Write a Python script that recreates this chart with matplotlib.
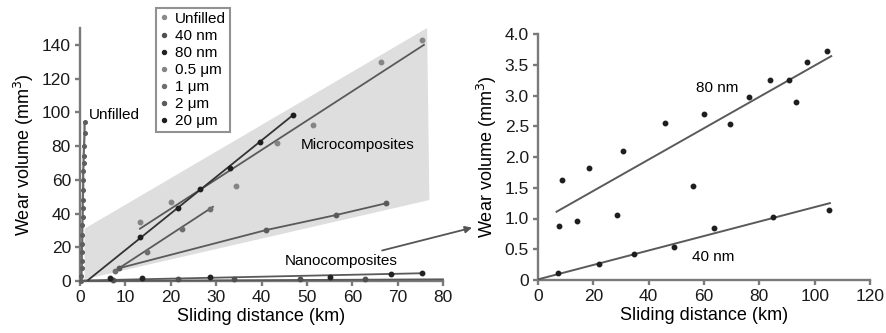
import matplotlib
matplotlib.use("Agg")
import matplotlib.pyplot as plt
from matplotlib.patches import Polygon

plt.rcParams['font.family'] = ['Liberation Sans', 'DejaVu Sans']

# ---------------- Left panel data ----------------
unfilled_x = [0.3, 0.3, 0.4, 0.4, 0.4, 0.5, 0.5, 0.5, 0.6, 0.6, 0.6, 0.7, 0.7, 0.7, 0.8, 0.8, 0.9, 1.0, 1.0]
unfilled_y = [0, 3, 8, 12, 17, 22, 27, 33, 38, 43, 48, 54, 60, 65, 70, 74, 80, 88, 94]

nano40_left_x = [7.3, 21.6, 34.0, 48.4, 62.9]
nano40_left_y = [0.5, 1.0, 1.0, 1.0, 1.0]
nano40_left_line_x = [0, 80]
nano40_left_line_y = [0.0, 1.0]

nano80_left_x = [6.6, 13.6, 28.6, 55.0, 68.5, 75.4]
nano80_left_y = [1.6, 1.6, 2.2, 2.6, 4.0, 4.6]
nano80_left_line_x = [1.0, 75.4]
nano80_left_line_y = [0.3, 4.6]

m05_x = [13.3, 20.1, 34.3, 43.4, 51.3, 66.3, 75.3]
m05_y = [35.2, 47.0, 56.5, 82.0, 92.5, 130.0, 143.0]
m05_line_x = [13.2, 75.8]
m05_line_y = [31.0, 140.0]

m1_x = [7.7, 14.8, 22.5, 28.6]
m1_y = [6.0, 17.4, 30.7, 42.5]
m1_line_x = [7.7, 29.3]
m1_line_y = [6.0, 44.0]

m2_x = [8.5, 41.0, 56.4, 67.5]
m2_y = [7.5, 30.2, 39.1, 46.1]

m20_x = [13.3, 21.6, 26.5, 33.0, 39.7, 47.0]
m20_y = [25.9, 43.5, 54.4, 66.8, 82.6, 98.5]
m20_line_x = [1.8, 47.0]
m20_line_y = [0.6, 98.5]

region_x = [1.0, 1.0, 76.5, 77.0]
region_y = [1.0, 31.0, 150.0, 48.0]

left_xticks = [0, 10, 20, 30, 40, 50, 60, 70, 80]
left_yticks = [0, 20, 40, 60, 80, 100, 120, 140]

# ---------------- Right panel data ----------------
r80_x = [7.6, 8.6, 14.2, 18.6, 28.4, 30.8, 45.9, 56.1, 60.0, 69.4, 76.4, 83.8, 90.8, 93.2, 97.3, 104.3]
r80_y = [0.87, 1.63, 0.96, 1.82, 1.06, 2.09, 2.56, 1.53, 2.70, 2.53, 2.98, 3.26, 3.26, 2.89, 3.55, 3.73]
r80_line_x = [6.7, 106.0]
r80_line_y = [1.11, 3.64]

r40_x = [7.3, 22.0, 34.7, 49.2, 63.7, 84.8, 105.2]
r40_y = [0.12, 0.26, 0.43, 0.53, 0.85, 1.03, 1.14]
r40_line_x = [0.0, 105.5]
r40_line_y = [0.01, 1.25]

right_xticks = [0, 20, 40, 60, 80, 100, 120]
right_yticks = [0, 0.5, 1.0, 1.5, 2.0, 2.5, 3.0, 3.5, 4.0]
right_yticklabels = ['0', '0.5', '1.0', '1.5', '2.0', '2.5', '3.0', '3.5', '4.0']

W, H = 887, 333
fig = plt.figure(figsize=(W / 100, H / 100), dpi=100)

axc = '#7a7a7a'
linec = '#5a5a5a'


def style_axes(ax):
    for s in ['top', 'right']:
        ax.spines[s].set_visible(False)
    for s in ['left', 'bottom']:
        ax.spines[s].set_color(axc)
        ax.spines[s].set_linewidth(1.7)
    ax.tick_params(direction='out', length=3.5, width=1.7, color=axc,
                   labelsize=12.5, pad=3, labelcolor='#1a1a1a')


# ---------- Left ----------
axL = fig.add_axes([80 / W, (H - 281) / H, 363 / W, 253 / H])
style_axes(axL)
axL.set_xlim(0, 80)
axL.set_ylim(0, 150)
axL.set_xticks(left_xticks)
axL.set_yticks(left_yticks)

axL.add_patch(Polygon(list(zip(region_x, region_y)), closed=True,
                      facecolor='#dedede', edgecolor='none', zorder=0))

ms = 3.2
kw = dict(clip_on=False, zorder=4)
# unfilled
axL.plot(unfilled_x, unfilled_y, '-', color='#6a6a6a', lw=1.6, zorder=3, clip_on=False)
axL.plot(unfilled_x, unfilled_y, 'o', color='#5e5e5e', ms=2.6, **kw)
axL.plot([], [], 'o', color='#8a8a8a', ms=ms, label='Unfilled')
# nanocomposites
axL.plot(nano40_left_line_x, nano40_left_line_y, '-', color=linec, lw=1.3, zorder=3, clip_on=False)
axL.plot(nano40_left_x, nano40_left_y, 'o', color='#505050', ms=ms, label='40 nm', **kw)
axL.plot(nano80_left_line_x, nano80_left_line_y, '-', color=linec, lw=1.3, zorder=3, clip_on=False)
axL.plot(nano80_left_x, nano80_left_y, 'o', color='#222222', ms=ms, label='80 nm', **kw)
# microcomposites
axL.plot(m05_line_x, m05_line_y, '-', color=linec, lw=1.3, zorder=3)
axL.plot(m05_x, m05_y, 'o', color='#858585', ms=ms, label='0.5 μm', **kw)
axL.plot(m1_line_x, m1_line_y, '-', color=linec, lw=1.3, zorder=3)
axL.plot(m1_x, m1_y, 'o', color='#6e6e6e', ms=ms, label='1 μm', **kw)
axL.plot(m2_x, m2_y, '-', color=linec, lw=1.3, zorder=3)
axL.plot(m2_x, m2_y, 'o', color='#5a5a5a', ms=ms, label='2 μm', **kw)
axL.plot(m20_line_x, m20_line_y, '-', color='#333333', lw=1.3, zorder=3)
axL.plot(m20_x, m20_y, 'o', color='#1e1e1e', ms=ms, label='20 μm', **kw)

axL.set_xlabel('Sliding distance (km)', fontsize=13, labelpad=2)
axL.set_ylabel('Wear volume (mm$^3$)', fontsize=13, labelpad=4)

axL.text(2.0, 98.5, 'Unfilled', fontsize=11, va='center', ha='left')
axL.text(61.2, 80.7, 'Microcomposites', fontsize=11, va='center', ha='center')
axL.annotate('Nanocomposites', xy=(86.4, 31.6), xytext=(57.5, 11.9),
             fontsize=11, va='center', ha='center', annotation_clip=False,
             arrowprops=dict(arrowstyle='-|>', color='#555555', lw=1.3,
                             shrinkA=2, shrinkB=0, mutation_scale=10))

leg = axL.legend(loc='upper left', bbox_to_anchor=(156 / W, 1 - 8 / H),
                 bbox_transform=fig.transFigure, fontsize=11,
                 handlelength=0.6, handletextpad=0.4, labelspacing=0.2,
                 borderpad=0.25, borderaxespad=0, markerscale=0.9,
                 frameon=True, fancybox=False)
leg.get_frame().set_edgecolor('#777777')
leg.get_frame().set_linewidth(1.5)

# ---------- Right ----------
axR = fig.add_axes([538 / W, (H - 280) / H, 332 / W, 246 / H])
style_axes(axR)
axR.set_xlim(0, 120)
axR.set_ylim(0, 4.0)
axR.set_xticks(right_xticks)
axR.set_yticks(right_yticks)
axR.set_yticklabels(right_yticklabels)

axR.plot(r80_line_x, r80_line_y, '-', color=linec, lw=1.4, zorder=3)
axR.plot(r80_x, r80_y, 'o', color='#1e1e1e', ms=ms, **kw)
axR.plot(r40_line_x, r40_line_y, '-', color=linec, lw=1.4, zorder=3)
axR.plot(r40_x, r40_y, 'o', color='#1e1e1e', ms=ms, **kw)

axR.text(64.7, 3.12, '80 nm', fontsize=11, ha='center', va='center')
axR.text(63.3, 0.37, '40 nm', fontsize=11, ha='center', va='center')

axR.set_xlabel('Sliding distance (km)', fontsize=13, labelpad=2)
axR.set_ylabel('Wear volume (mm$^3$)', fontsize=13, labelpad=4)

fig.savefig('out.png', dpi=100)
